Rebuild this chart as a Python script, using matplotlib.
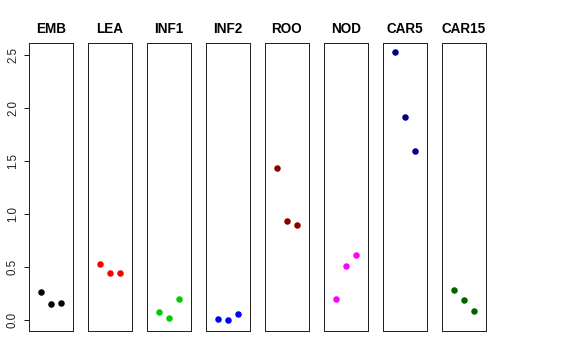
import matplotlib
matplotlib.use("Agg")
import matplotlib.pyplot as plt

plt.rcParams['font.family'] = ['Liberation Sans', 'DejaVu Sans']

tissues = ["EMB", "LEA", "INF1", "INF2", "ROO", "NOD", "CAR5", "CAR15"]
colors = ["#000000", "#FF0000", "#00CD00", "#0000FF", "#8B0000", "#FF00FF", "#00008B", "#006400"]
emb = [0.266, 0.149, 0.164]
lea = [0.525, 0.44, 0.44]
inf1 = [0.079, 0.016, 0.197]
inf2 = [0.012, -0.003, 0.06]
roo = [1.431, 0.937, 0.896]
nod = [0.20, 0.513, 0.614]
car5 = [2.529, 1.918, 1.595]
car15 = [0.282, 0.19, 0.082]
values = [emb, lea, inf1, inf2, roo, nod, car5, car15]
xpos = [1, 2, 3]
yticks = [0.0, 0.5, 1.0, 1.5, 2.0, 2.5]
yticklabels = ["0.0", "0.5", "1.0", "1.5", "2.0", "2.5"]

W, H = 576, 360
fig = plt.figure(figsize=(W / 72, H / 72), dpi=72)
left0 = 29
step = 59
pw = 44
top, bottom = 43, 331
for i, (name, vals, c) in enumerate(zip(tissues, values, colors)):
    l = left0 + i * step
    ax = fig.add_axes([l / W, (H - bottom) / H, pw / W, (bottom - top) / H])
    ax.plot(xpos, vals, 'o', color=c, markersize=6.5, markeredgewidth=0)
    ax.set_xlim(-0.2, 4.2)
    ax.set_ylim(-0.104, 2.613)
    ax.set_xticks([])
    for s in ax.spines.values():
        s.set_linewidth(1.0)
        s.set_color("#222222")
    ax.set_title(name, fontsize=13.5, fontweight='bold', pad=10)
    if i == 0:
        ax.set_yticks(yticks)
        ax.set_yticklabels(yticklabels, rotation=90, va='center', fontsize=11.5, color="#222222")
        ax.tick_params(axis='y', length=5, width=0.9, pad=5)
    else:
        ax.set_yticks([])

fig.savefig("out.png", dpi=72)
